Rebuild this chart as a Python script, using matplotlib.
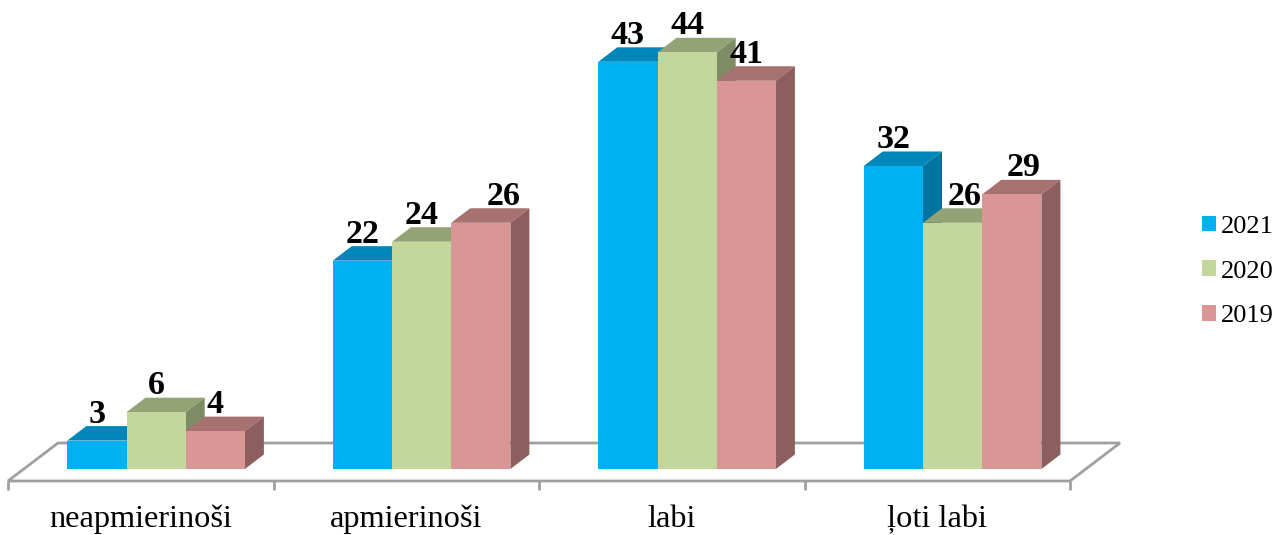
import matplotlib
matplotlib.use("Agg")
import matplotlib.pyplot as plt
from matplotlib.patches import Polygon, Patch

categories = ["neapmierinoši", "apmierinoši", "labi", "ļoti labi"]
series_names = ["2021", "2020", "2019"]
values_2021 = [3, 22, 43, 32]
values_2020 = [6, 24, 44, 26]
values_2019 = [4, 26, 41, 29]

W, H = 1277, 535
CAT_PX = 265.5
UNIT_PX = 9.47
X0_PX, Y0_PX = 8.0, 469.0

front = ["#00B0F0", "#C3D69B", "#D99694"]
top = ["#0086B8", "#93A376", "#A6716F"]
side = ["#0074A0", "#7F8B64", "#8C5F5E"]
grey = "#A0A0A0"

plt.rcParams["font.family"] = ["Liberation Serif", "DejaVu Serif"]
fig = plt.figure(figsize=(W / 100, H / 100), dpi=100)
ax = fig.add_axes([0, 0, 1, 1])
ax.set_xlim(-X0_PX / CAT_PX, (W - X0_PX) / CAT_PX)
ax.set_ylim(-(H - Y0_PX) / UNIT_PX, Y0_PX / UNIT_PX)
ax.axis("off")

bar_w = 59.2 / CAT_PX
gap = 59.3 / CAT_PX
dx = 19 / CAT_PX
dy = 14.5 / UNIT_PX

# floor
fl = -12 / UNIT_PX
fdx = 50 / CAT_PX
fdy = (481 - 443) / UNIT_PX
n = len(categories)
ax.add_patch(Polygon([(0, fl), (n, fl), (n + fdx, fl + fdy), (fdx, fl + fdy)],
                     closed=True, fc="white", ec=grey, lw=2.0, zorder=1, joinstyle="miter"))
for i in range(n + 1):
    ax.plot([i, i], [fl, fl - 9 / UNIT_PX], color=grey, lw=2.0, zorder=1, solid_capstyle="butt")

nudge_px = {(3, 1): 12, (1, 2): 23, (3, 2): 12}
series = [values_2021, values_2020, values_2019]
z = 2
for c in range(n):
    for s, vals in enumerate(series):
        v = vals[c]
        x = c + gap + s * bar_w
        ax.add_patch(Polygon([(x, v), (x + bar_w, v), (x + bar_w + dx, v + dy), (x + dx, v + dy)],
                             closed=True, fc=top[s], ec="none", zorder=z))
        ax.add_patch(Polygon([(x + bar_w, 0), (x + bar_w + dx, dy), (x + bar_w + dx, v + dy), (x + bar_w, v)],
                             closed=True, fc=side[s], ec="none", zorder=z))
        ax.bar(x, v, width=bar_w, align="edge", color=front[s], zorder=z + 0.5)
        z += 1
        ax.text(x + bar_w / 2 + nudge_px.get((c, s), 0) / CAT_PX, v + 18 / UNIT_PX, str(v),
                ha="center", va="baseline", fontsize=24.5, fontweight="bold", color="black", zorder=100)
    ax.text(c + 0.5, -58 / UNIT_PX, categories[c], ha="center", va="baseline",
            fontsize=23.3, color="black", zorder=100)

handles = [Patch(fc=front[i], ec="none", label=series_names[i]) for i in range(3)]
ax.legend(handles=handles, loc="center left", bbox_to_anchor=(1202 / W, 1 - 271.5 / H),
          frameon=False, fontsize=19, handlelength=0.53, handleheight=0.53,
          handletextpad=0.2, labelspacing=0.86, borderpad=0, borderaxespad=0)

fig.savefig("out.png", dpi=100)
